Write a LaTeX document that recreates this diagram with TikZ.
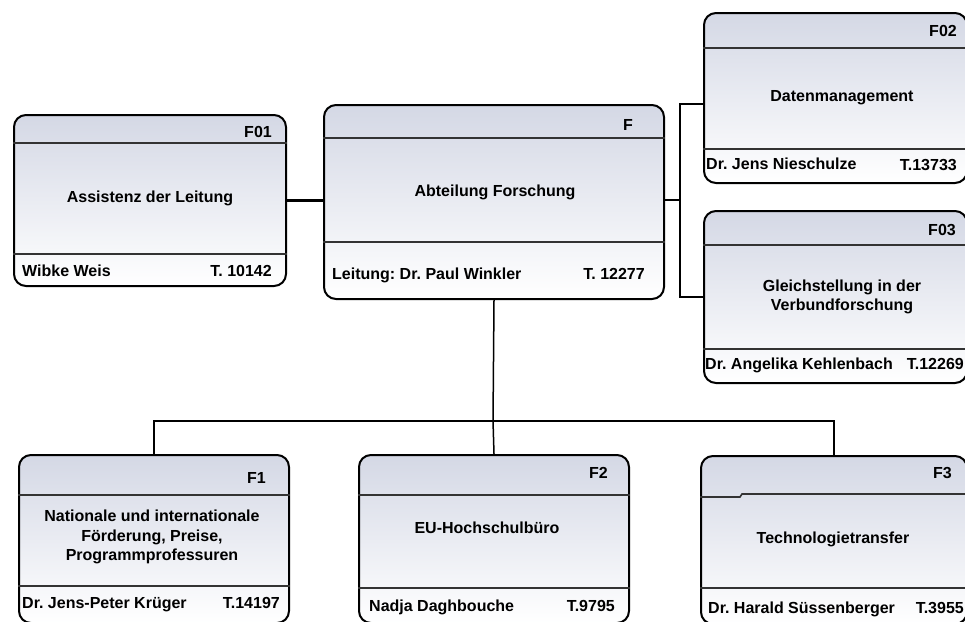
\documentclass[tikz,border=0pt]{standalone}
\usepackage{fontspec}
\setmainfont{Liberation Sans}
\usepackage{xcolor}
\usetikzlibrary{positioning}

\definecolor{boxtop}{RGB}{212,216,229}
\definecolor{boxbot}{RGB}{255,255,255}

\tikzset{
  unit/.style={draw=black, line width=2pt, rounded corners=12pt, top color=boxtop, bottom color=boxbot, anchor=north west, inner sep=0pt},
  sep/.style={draw=black!80, line width=1.6pt},
  txt/.style={font=\fontsize{16}{19.5}\selectfont\bfseries\frenchspacing, inner sep=0pt, align=center},
  link/.style={draw=black, line width=2.5pt},
  thin link/.style={draw=black, line width=1.5pt}
}

\begin{document}
\begin{tikzpicture}[x=1pt,y=-1pt]
\useasboundingbox (0,0) rectangle (965,621);
\clip (0,0) rectangle (965,621);

\coordinate (rbus) at (680,200);
\coordinate (bbus) at (493,421);

\node[unit, minimum width=272, minimum height=171] (assist) at (13,114) {};
\node[unit, minimum width=340, minimum height=194] (leitung) at (323,104) {};
\node[unit, minimum width=263, minimum height=170] (daten) at (703,12) {};
\node[unit, minimum width=263, minimum height=172] (gleich) at (703,210) {};
\node[unit, minimum width=270, minimum height=168] (foerd) at (18,454) {};
\node[unit, minimum width=270, minimum height=168] (euro) at (358,454) {};
\node[unit, minimum width=266, minimum height=168] (transfer) at (700,455) {};

\draw[sep] ([yshift=-29]assist.north west) -- ([yshift=-29]assist.north east);
\draw[sep] ([yshift=33]assist.south west) -- ([yshift=33]assist.south east);
\draw[sep] ([yshift=-34]leitung.north west) -- ([yshift=-34]leitung.north east);
\draw[sep] ([yshift=58]leitung.south west) -- ([yshift=58]leitung.south east);
\draw[sep] ([yshift=-36]daten.north west) -- ([yshift=-36]daten.north east);
\draw[sep] ([yshift=35]daten.south west) -- ([yshift=35]daten.south east);
\draw[sep] ([yshift=-35]gleich.north west) -- ([yshift=-35]gleich.north east);
\draw[sep] ([yshift=35]gleich.south west) -- ([yshift=35]gleich.south east);
\draw[sep] ([yshift=-41]foerd.north west) -- ([yshift=-41]foerd.north east);
\draw[sep] ([yshift=38]foerd.south west) -- ([yshift=38]foerd.south east);
\draw[sep] ([yshift=-41]euro.north west) -- ([yshift=-41]euro.north east);
\draw[sep] ([yshift=36]euro.south west) -- ([yshift=36]euro.south east);
\draw[sep] ([yshift=-42]transfer.north west) -- ++(40,0) -- ++(2,-3) -- ([yshift=-39]transfer.north east);
\draw[sep] ([yshift=37]transfer.south west) -- ([yshift=37]transfer.south east);

\node[txt, anchor=base east] (assistcode) at (272,137) {F01};
\node[txt] (assisttitle) at (150,198) {Assistenz der Leitung};
\node[txt, anchor=base west] (assistname) at (22,276) {Wibke Weis};
\node[txt, anchor=base east] (assisttel) at (272,276) {T. 10142};

\node[txt, anchor=base east] (leitungcode) at (633,130) {F};
\node[txt] (leitungtitle) at (495,192) {Abteilung Forschung};
\node[txt, anchor=base west] (leitungname) at (332,279) {Leitung: Dr. Paul Winkler};
\node[txt, anchor=base east] (leitungtel) at (645,279) {T. 12277};

\node[txt, anchor=base east] (datencode) at (957,36) {F02};
\node[txt] (datentitle) at (842,98) {Datenmanagement};
\node[txt, anchor=base west] (datenname) at (706,169) {Dr. Jens Nieschulze};
\node[txt, anchor=base east] (datentel) at (957,170) {T.13733};

\node[txt, anchor=base east] (gleichcode) at (956,235) {F03};
\node[txt] (gleichtitle) at (842,297) {Gleichstellung in der\\Verbundforschung};
\node[txt, anchor=base west] (gleichname) at (705,369) {Dr. Angelika Kehlenbach};
\node[txt, anchor=base east] (gleichtel) at (964,369) {T.12269};

\node[txt, anchor=base east] (foerdcode) at (266,483) {F1};
\node[txt] (foerdtitle) at (152,537) {Nationale und internationale\\F\"orderung, Preise,\\Programmprofessuren};
\node[txt, anchor=base west] (foerdname) at (22,608) {Dr. Jens-Peter Kr\"uger};
\node[txt, anchor=base east] (foerdtel) at (280,608) {T.14197};

\node[txt, anchor=base east] (eurocode) at (608,478) {F2};
\node[txt] (eurotitle) at (487,528) {EU-Hochschulb\"uro};
\node[txt, anchor=base west] (euroname) at (369,611) {Nadja Daghbouche};
\node[txt, anchor=base east] (eurotel) at (615,611) {T.9795};

\node[txt, anchor=base east] (transfercode) at (952,478) {F3};
\node[txt] (transfertitle) at (833,539) {Technologietransfer};
\node[txt, anchor=base west] (transfername) at (708,613) {Dr. Harald S\"ussenberger};
\node[txt, anchor=base east] (transfertel) at (964,613) {T.3955};

\draw[link] (assist.east) -- (assist.east -| leitung.west);
\draw[thin link] (leitung.east |- rbus) -- (rbus);
\draw[thin link] ([yshift=-6]daten.west) -| (rbus) |- (gleich.west);
\draw[thin link] (leitung.south) -- (bbus) -- (euro.north);
\draw[link] (foerd.north) |- (bbus) -| (transfer.north);

\end{tikzpicture}
\end{document}
